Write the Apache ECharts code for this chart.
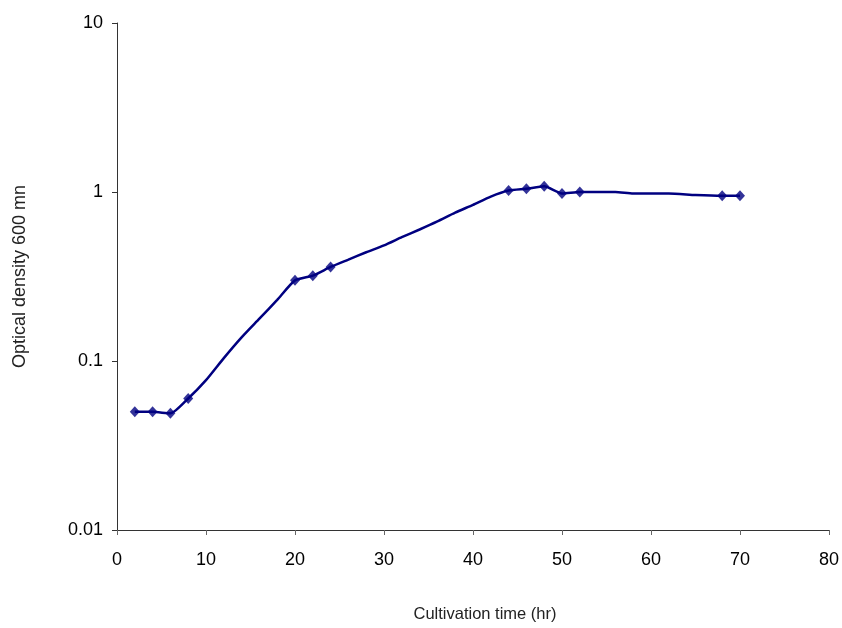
<!DOCTYPE html>
<html>
<head>
<meta charset="utf-8">
<script src="https://cdn.jsdelivr.net/npm/echarts@6/dist/echarts.min.js"></script>
<style>
html,body{margin:0;padding:0;background:#fff;}
#chart{width:842px;height:628px;}
</style>
</head>
<body>
<div id="chart"></div>
<script>
// Curve (smoothed line) time points and values
var curveTime = [2, 4, 6, 8, 10, 12, 14, 16, 18, 20, 22, 24, 26, 28, 30, 32, 34, 36, 38, 40, 42, 44, 46, 48, 50, 52, 56, 58, 62, 65, 68, 70];
var curveOD   = [0.05, 0.05, 0.049, 0.06, 0.077, 0.104, 0.138, 0.178, 0.23, 0.30, 0.32, 0.36, 0.398, 0.44, 0.483, 0.54, 0.60, 0.67, 0.755, 0.84, 0.94, 1.02, 1.045, 1.08, 0.98, 1.0, 1.0, 0.98, 0.98, 0.96, 0.95, 0.95];
// Measured points (diamond markers)
var markTime = [2, 4, 6, 8, 20, 22, 24, 44, 46, 48, 50, 52, 68, 70];
var markOD   = [0.05, 0.05, 0.049, 0.06, 0.30, 0.32, 0.36, 1.02, 1.045, 1.08, 0.98, 1.0, 0.95, 0.95];
var yTicks = [0.01, 0.1, 1, 10];

var curveData = curveTime.map(function(t, i){ return [t, curveOD[i]]; });
var markData = markTime.map(function(t, i){ return [t, markOD[i]]; });

var chart = echarts.init(document.getElementById('chart'), null, {renderer: 'canvas'});
var font = 'Liberation Sans, Arial, sans-serif';
chart.setOption({
  animation: false,
  backgroundColor: '#ffffff',
  grid: {left: 117, right: 11, top: 23, bottom: 92, containLabel: false},
  xAxis: {
    type: 'value', min: 0, max: 80, interval: 10,
    name: 'Cultivation time (hr)', nameLocation: 'middle', nameGap: 76,
    nameTextStyle: {fontFamily: font, fontSize: 16.5, color: '#222', padding: [0, 0, 0, 24]},
    axisLine: {show: true, lineStyle: {color: '#333', width: 1}},
    axisTick: {show: true, length: 5, lineStyle: {color: '#666'}},
    axisLabel: {fontFamily: font, fontSize: 18, color: '#000', margin: 21},
    splitLine: {show: false}
  },
  yAxis: {
    type: 'log', logBase: 10, min: 0.01, max: 10,
    name: 'Optical density 600 mn', nameLocation: 'middle', nameGap: 88,
    nameTextStyle: {fontFamily: font, fontSize: 18, color: '#222'},
    axisLine: {show: true, lineStyle: {color: '#333', width: 1}},
    axisTick: {show: true, length: 5, lineStyle: {color: '#333'}},
    minorTick: {show: false},
    axisLabel: {fontFamily: font, fontSize: 18, color: '#000', margin: 14,
      formatter: function(v){
        var best = yTicks.reduce(function(a, b){ return Math.abs(Math.log10(b) - Math.log10(v)) < Math.abs(Math.log10(a) - Math.log10(v)) ? b : a; });
        return String(best);
      }},
    splitLine: {show: false}
  },
  series: [
    {
      type: 'line', data: curveData, smooth: 0.2, showSymbol: false,
      lineStyle: {color: '#000080', width: 2.5},
      z: 2
    },
    {
      type: 'scatter', data: markData, symbol: 'diamond', symbolSize: [10, 11],
      itemStyle: {color: '#000080'},
      z: 3
    }
  ]
});
</script>
</body>
</html>
